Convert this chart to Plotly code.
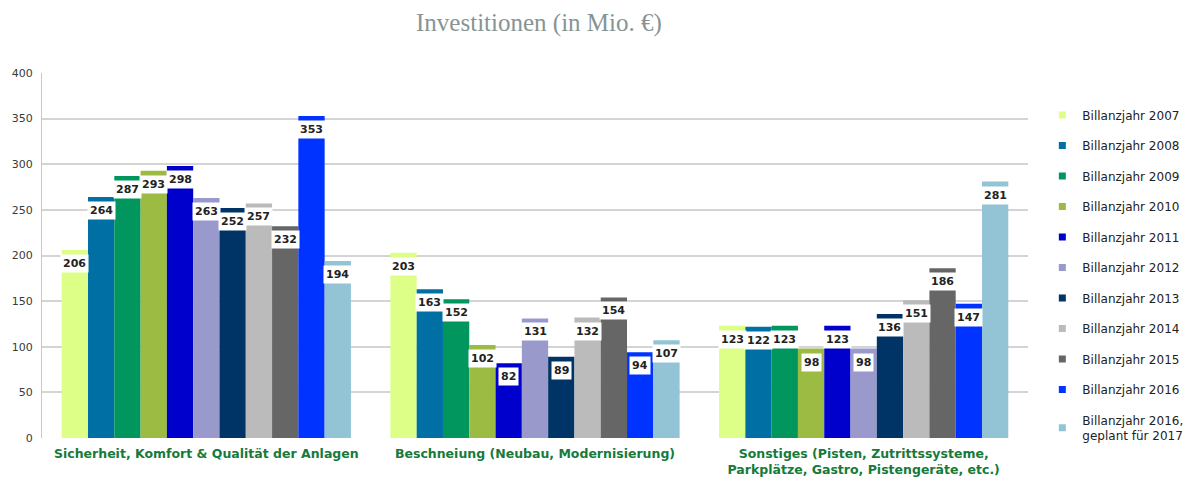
import plotly.graph_objects as go

categories = [
    "Sicherheit, Komfort & Qualität der Anlagen",
    "Beschneiung (Neubau, Modernisierung)",
    "Sonstiges (Pisten, Zutrittssysteme,<br>Parkplätze, Gastro, Pistengeräte, etc.)",
]
series_names = [
    "Billanzjahr 2007", "Billanzjahr 2008", "Billanzjahr 2009", "Billanzjahr 2010",
    "Billanzjahr 2011", "Billanzjahr 2012", "Billanzjahr 2013", "Billanzjahr 2014",
    "Billanzjahr 2015", "Billanzjahr 2016", "Billanzjahr 2016,<br>geplant für 2017",
]
v2007 = [206, 203, 123]
v2008 = [264, 163, 122]
v2009 = [287, 152, 123]
v2010 = [293, 102, 98]
v2011 = [298, 82, 123]
v2012 = [263, 131, 98]
v2013 = [252, 89, 136]
v2014 = [257, 132, 151]
v2015 = [232, 154, 186]
v2016 = [353, 94, 147]
v2016_plan = [194, 107, 281]
series_values = [v2007, v2008, v2009, v2010, v2011, v2012, v2013, v2014, v2015, v2016, v2016_plan]
colors = ["#ddff88", "#0070a4", "#00965e", "#9bbb42", "#0000cc", "#9999cc",
          "#003366", "#bbbbbb", "#666666", "#0033ff", "#93c4d5"]
y_ticks = [0, 50, 100, 150, 200, 250, 300, 350, 400]

bargap = 0.12
n = len(series_values)
group_w = 1 - bargap
bar_w = group_w / n

fig = go.Figure()
annotations = []
for j, (name, vals, col) in enumerate(zip(series_names, series_values, colors)):
    fig.add_trace(go.Bar(
        x=list(range(len(categories))), y=vals, name=name, marker_color=col,
        marker_line_width=0, legendgroup=f"g{j}", showlegend=False,
    ))
    # legend entry with a small square swatch
    fig.add_trace(go.Scatter(
        x=[None], y=[None], mode="markers", name=name, legendgroup=f"g{j}",
        marker=dict(symbol="square", size=7, color=col), hoverinfo="skip",
    ))
    for i, v in enumerate(vals):
        annotations.append(dict(
            x=i - group_w / 2 + bar_w * (j + 0.5), y=v, xref="x", yref="y",
            text=f"<b>{v}</b>", showarrow=False, yanchor="top", yshift=-4,
            bgcolor="white", borderpad=2,
            font=dict(family="DejaVu Sans", size=11, color="#222222"),
        ))

fig.update_layout(
    width=1193, height=477,
    margin=dict(l=34, r=173, t=65, b=47),
    plot_bgcolor="white", paper_bgcolor="white",
    barmode="group", bargap=bargap, bargroupgap=0,
    title=dict(text="Investitionen (in Mio. €)", xref="paper", x=0.504, xanchor="center",
               y=0.971, yanchor="middle",
               font=dict(family="Liberation Serif", size=25, color="#869494")),
    xaxis=dict(
        tickmode="array", tickvals=list(range(len(categories))),
        ticktext=[f"<b>{c}</b>" for c in categories],
        range=[-0.5, len(categories) - 0.5],
        tickfont=dict(family="DejaVu Sans", size=12.5, color="#167a3a"),
        showline=False, ticks="outside", ticklen=4, tickcolor="rgba(0,0,0,0)",
        automargin=False,
    ),
    yaxis=dict(
        range=[0, 400], tickvals=y_ticks, showgrid=True, gridcolor="#d4d4d4", gridwidth=1.5,
        showline=True, linecolor="#c8c8c8", linewidth=1, zeroline=False,
        tickfont=dict(family="DejaVu Sans", size=11, color="#3a3a3a"),
        ticks="outside", ticklen=6, tickcolor="rgba(0,0,0,0)", automargin=False,
    ),
    legend=dict(
        xref="container", yref="container",
        x=0.867, xanchor="left", y=0.439, yanchor="middle", maxheight=470,
        font=dict(family="DejaVu Sans", size=12, color="#222222"),
        traceorder="grouped", tracegroupgap=11.5, itemwidth=30,
    ),
    annotations=annotations,
    showlegend=True,
)

fig.write_html("out.html")
